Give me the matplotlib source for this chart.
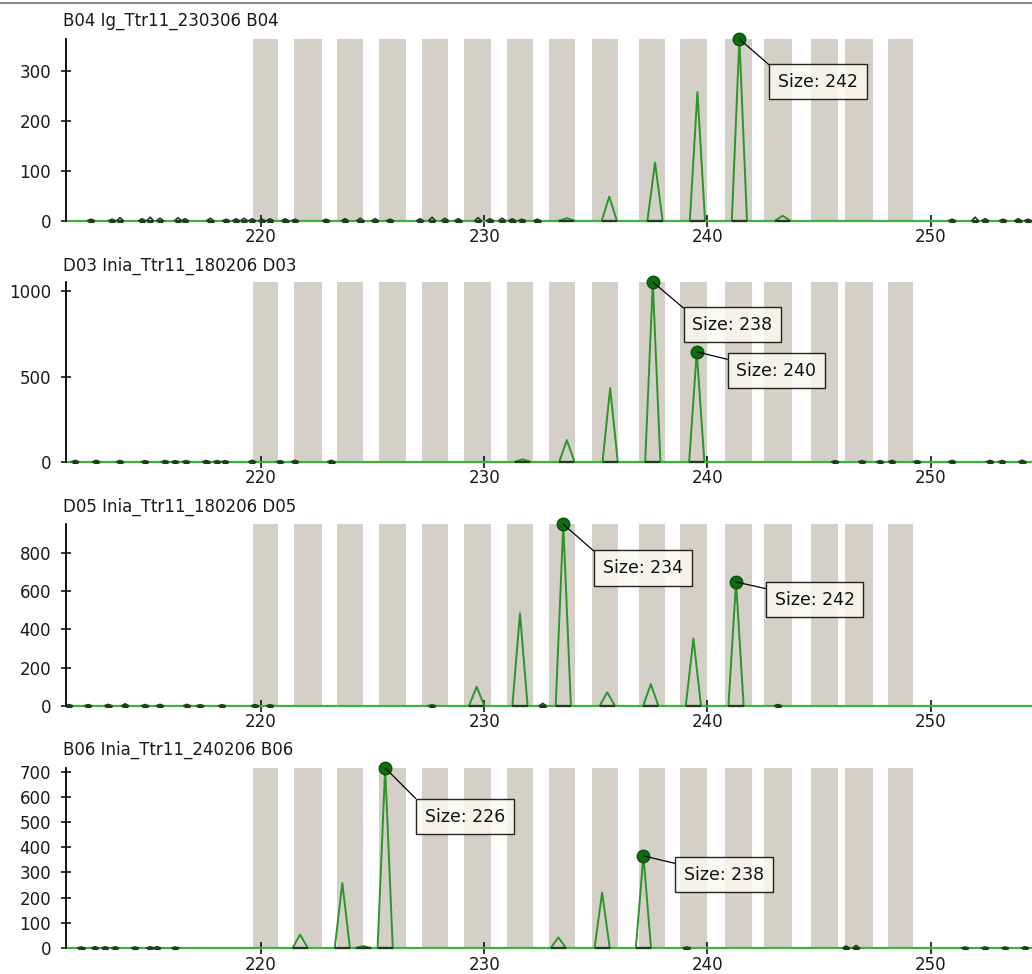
import matplotlib
matplotlib.use("Agg")
import matplotlib.pyplot as plt
from matplotlib.lines import Line2D

# ---------------- data ----------------
titles = ["B04 Ig_Ttr11_230306 B04", "D03 Inia_Ttr11_180206 D03",
          "D05 Inia_Ttr11_180206 D05", "B06 Inia_Ttr11_240206 B06"]

x_ticks = [220, 230, 240, 250]

# allele bins (size range, bp)
bin_lo = [219.63, 221.49, 223.42, 225.27, 227.20, 229.09, 231.01, 232.92,
          234.82, 236.91, 238.77, 240.79, 242.55, 244.64, 246.16, 248.08]
bin_hi = [220.78, 222.75, 224.58, 226.50, 228.39, 230.29, 232.20, 234.07,
          235.98, 238.08, 239.98, 242.00, 243.78, 245.86, 247.40, 249.22]

# panel 1: B04
p1_yticks = [0, 100, 200, 300]
p1_ymax = 363
p1_peak_pos = [233.70, 235.60, 237.65, 239.55, 241.43, 243.37]
p1_peak_h = [5, 48, 116, 257, 363, 10]
p1_noise_pos = [212.38, 213.32, 213.68, 214.67, 215.03, 215.47, 216.28, 216.59,
                217.72, 218.43, 218.88, 219.24, 219.60, 220.04, 220.40, 221.08,
                221.52, 222.91, 223.76, 224.44, 225.11, 225.78, 227.12, 227.66,
                228.24, 228.83, 229.72, 230.26, 230.80, 231.25, 231.69, 232.37,
                250.96, 251.99, 252.44, 253.24, 253.92, 254.36]
p1_noise_h = [3, 3, 6, 4, 7, 5, 6, 4, 5, 3, 4, 5, 4, 3, 4, 4,
              3, 3, 4, 5, 4, 3, 4, 7, 5, 4, 6, 4, 5, 4, 3, 3,
              3, 7, 4, 3, 4, 3]
p1_label_text = ["Size: 242"]
p1_label_pos = [241.43]
p1_label_h = [363]

# panel 2: D03
p2_yticks = [0, 500, 1000]
p2_ymax = 1055
p2_peak_pos = [231.72, 233.70, 235.64, 237.55, 239.52]
p2_peak_h = [14, 127, 432, 1055, 645]
p2_noise_pos = [211.67, 212.61, 213.68, 214.80, 215.70, 216.15, 216.64, 217.54,
                218.03, 218.39, 219.60, 220.85, 221.52, 223.14, 245.72, 246.93,
                247.73, 248.27, 249.39, 250.96, 252.66, 253.20, 254.10]
p2_noise_h = [8, 8, 7, 6, 7, 6, 6, 7, 6, 6, 9, 6, 8, 8, 6, 6,
              6, 8, 6, 8, 8, 7, 9]
p2_label_text = ["Size: 238", "Size: 240"]
p2_label_pos = [237.55, 239.52]
p2_label_h = [1055, 645]

# panel 3: D05
p3_yticks = [0, 200, 400, 600, 800]
p3_ymax = 950
p3_peak_pos = [229.66, 231.60, 233.54, 235.51, 237.46, 239.37, 241.28]
p3_peak_h = [99, 483, 950, 70, 113, 352, 648]
p3_noise_pos = [211.40, 212.25, 213.15, 213.91, 214.80, 215.47, 216.68, 217.27,
                218.25, 219.73, 220.40, 227.66, 232.62, 243.16]
p3_noise_h = [6, 6, 7, 10, 6, 7, 7, 5, 5, 6, 5, 4, 12, 6]
p3_label_text = ["Size: 234", "Size: 242"]
p3_label_pos = [233.54, 241.28]
p3_label_h = [950, 648]

# panel 4: B06
p4_yticks = [0, 100, 200, 300, 400, 500, 600, 700]
p4_ymax = 715
p4_peak_pos = [221.75, 223.64, 224.58, 225.56, 233.32, 235.28, 237.13]
p4_peak_h = [53, 258, 8, 715, 42, 220, 366]
p4_noise_pos = [211.94, 212.56, 213.01, 213.46, 214.35, 215.03, 215.34, 216.15,
                239.07, 246.21, 246.66, 251.54, 252.44, 253.33, 254.23]
p4_noise_h = [4, 5, 5, 5, 4, 5, 5, 4, 4, 8, 10, 4, 4, 4, 5]
p4_label_text = ["Size: 226", "Size: 238"]
p4_label_pos = [225.56, 237.13]
p4_label_h = [715, 366]

# ---------------- layout / style ----------------
W, H = 1032, 974
X_LEFT_PX = 66
XLIM = (211.26, 254.54)
panel_px = [(39, 220.7), (282, 461.7), (524.3, 705.7), (768, 948)]
title_y_px = [21, 266, 507, 750]
# box top-left offset from marker (pixels, right / down)
label_offsets = [[(30, 25)], [(31, 25), (31, 1)], [(31, 26), (30, 0)], [(31, 31), (32, 1)]]

BAND = "#d4d0c8"
TRACE = "#2a962a"
BASE = "#3cb43c"
DARK = "#1d3d1d"
MARK = "#0c6f0c"
FS = 12
LFS = 12.5

plt.rcParams["font.family"] = ["DejaVu Sans"]

panels = [
    (p1_yticks, p1_ymax, p1_peak_pos, p1_peak_h, p1_noise_pos, p1_noise_h,
     p1_label_text, p1_label_pos, p1_label_h),
    (p2_yticks, p2_ymax, p2_peak_pos, p2_peak_h, p2_noise_pos, p2_noise_h,
     p2_label_text, p2_label_pos, p2_label_h),
    (p3_yticks, p3_ymax, p3_peak_pos, p3_peak_h, p3_noise_pos, p3_noise_h,
     p3_label_text, p3_label_pos, p3_label_h),
    (p4_yticks, p4_ymax, p4_peak_pos, p4_peak_h, p4_noise_pos, p4_noise_h,
     p4_label_text, p4_label_pos, p4_label_h),
]

fig = plt.figure(figsize=(W / 100, H / 100), dpi=100)
fig.patch.set_facecolor("white")

PEAK_W = 0.34
NOISE_W = 0.15
fs_px = LFS * 100 / 72.0
pad_frac = 0.5
pad_px = pad_frac * fs_px

for i, (yt, ymax, ppos, ph, npos, nh, ltxt, lpos, lh) in enumerate(panels):
    top, bot = panel_px[i]
    ax = fig.add_axes([X_LEFT_PX / W, 1 - bot / H, (W - X_LEFT_PX) / W, (bot - top) / H])
    ax.set_xlim(*XLIM)
    ax.set_ylim(0, ymax)
    ax.set_facecolor("white")

    for lo, hi in zip(bin_lo, bin_hi):
        ax.axvspan(lo, hi, ymin=0, ymax=1, color=BAND, lw=0, zorder=0)

    ax.axhline(0, color=BASE, lw=1.6, zorder=2, clip_on=False)

    for p, h in zip(npos, nh):
        ax.plot([p - NOISE_W, p, p + NOISE_W], [0, h, 0], color=DARK, lw=1.2,
                zorder=3, clip_on=False)
        ax.plot([p - NOISE_W, p + NOISE_W], [0, 0], color=DARK, lw=2.2,
                zorder=3, clip_on=False, solid_capstyle="butt")

    for p, h in zip(ppos, ph):
        ax.plot([p - PEAK_W, p, p + PEAK_W], [0, h, 0], color=TRACE, lw=1.4,
                zorder=4, clip_on=False)
        ax.plot([p - PEAK_W, p + PEAK_W], [0, 0], color=DARK, lw=1.6,
                zorder=4, clip_on=False, solid_capstyle="butt")

    for j, (t, p, h) in enumerate(zip(ltxt, lpos, lh)):
        dx, dy = label_offsets[i][j]
        ax.plot([p], [h], marker="o", ms=9, color=MARK, mec="#0a4f0a",
                zorder=7, clip_on=False)
        ax.annotate(t, xy=(p, h), xytext=(dx + pad_px, -dy - pad_px),
                    textcoords="offset pixels", ha="left", va="top",
                    fontsize=LFS, color="#111111", zorder=8,
                    bbox=dict(boxstyle=f"square,pad={pad_frac}", fc="#fbfaf0",
                              ec="black", lw=1.0, alpha=0.85),
                    arrowprops=dict(arrowstyle="-", color="black", lw=0.9,
                                    relpos=(0, 1), shrinkA=0, shrinkB=0),
                    annotation_clip=False)

    for s in ("top", "right", "bottom"):
        ax.spines[s].set_visible(False)
    ax.spines["left"].set_color("black")
    ax.spines["left"].set_linewidth(1.3)
    ax.spines["left"].set_zorder(5)

    ax.set_xticks(x_ticks)
    ax.set_xticklabels([str(v) for v in x_ticks])
    ax.set_yticks(yt)
    ax.set_yticklabels([str(v) for v in yt])
    ax.tick_params(axis="x", direction="inout", length=9, width=1.1,
                   color="black", labelsize=FS, labelcolor="#1a1a1a", pad=1)
    ax.tick_params(axis="y", direction="inout", length=7.5, width=1.1,
                   color="black", labelsize=FS, labelcolor="#1a1a1a", pad=7)

    fig.text(63 / W, 1 - title_y_px[i] / H, titles[i], ha="left", va="center",
             fontsize=FS, color="#1a1a1a")

fig.add_artist(Line2D([0, 1], [1 - 3 / H, 1 - 3 / H], color="#8a8a8a", lw=1.5))

fig.savefig("out.png", dpi=100, facecolor="white")
